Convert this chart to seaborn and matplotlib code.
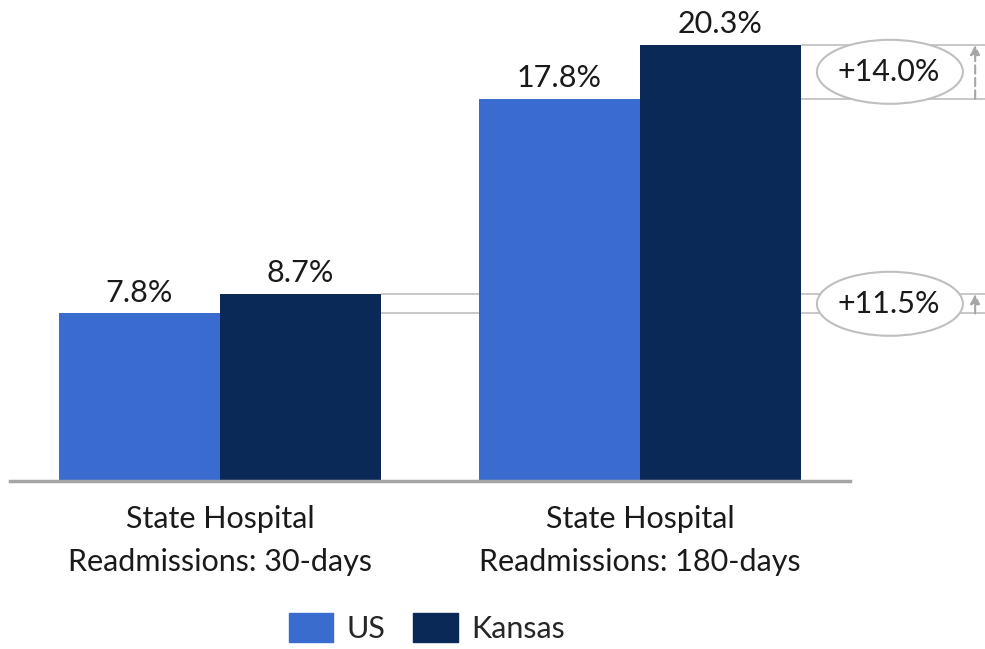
import matplotlib
matplotlib.use("Agg")
import matplotlib.pyplot as plt
from matplotlib.patches import Ellipse
import seaborn as sns
import pandas as pd

# Readmission rates (%) for the two measures
categories = ["State Hospital\nReadmissions: 30-days", "State Hospital\nReadmissions: 180-days"]
regions = ["US", "Kansas"]
us_rates = [7.8, 17.8]
kansas_rates = [8.7, 20.3]
palette = {"US": "#3A6CCF", "Kansas": "#0B2956"}

df = pd.DataFrame({
    "measure": categories * 2,
    "region": ["US"] * len(categories) + ["Kansas"] * len(categories),
    "rate": us_rates + kansas_rates,
})

sns.set_theme(style="white")
plt.rcParams["font.family"] = ["Lato", "DejaVu Sans"]
FS = 22
TXT = "#1A1A1A"

fig = plt.figure(figsize=(9.85, 6.49), dpi=100)
ax = fig.add_axes([10 / 985, (649 - 481) / 649, 840 / 985, 476 / 649])

sns.barplot(data=df, x="measure", y="rate", hue="region", hue_order=regions,
            order=categories, palette=palette, width=0.767, saturation=1,
            edgecolor="none", linewidth=0, ax=ax, legend=False)

ax.set_xlim(-0.5, 1.5)
ax.set_ylim(0, 476 / 21.48)
for side in ["left", "right", "top"]:
    ax.spines[side].set_visible(False)
ax.spines["bottom"].set_color("#A6A6A6")
ax.spines["bottom"].set_linewidth(2.5)
ax.set_yticks([])
ax.set_xlabel("")
ax.set_ylabel("")
ax.tick_params(axis="x", length=0, pad=17, labelsize=FS, labelcolor=TXT)
for lbl in ax.get_xticklabels():
    lbl.set_linespacing(1.65)

for cont in ax.containers:
    ax.bar_label(cont, labels=[f"{v:.1f}%" for v in cont.datavalues],
                 padding=5, fontsize=FS, color=TXT)

us_bars, ks_bars = ax.containers[0], ax.containers[1]
x_edge = 1.821  # right edge of the figure in data units
arrow_x = 1.798
grid_col = "#BFBFBF"

for i in range(len(categories)):
    us_b, ks_b = us_bars[i], ks_bars[i]
    us_v, ks_v = us_rates[i], kansas_rates[i]
    # guide lines at each value level, running out to the comparison bubble
    ax.hlines(us_v, us_b.get_x() + us_b.get_width(), x_edge, color=grid_col,
              linewidth=1.2, zorder=0.5, clip_on=False)
    ax.hlines(ks_v, ks_b.get_x() + ks_b.get_width(), x_edge, color=grid_col,
              linewidth=1.2, zorder=0.5, clip_on=False)
    # arrow showing the gap
    ax.annotate("", xy=(arrow_x, ks_v), xytext=(arrow_x, us_v),
                arrowprops=dict(arrowstyle="-|>", color="#A6A6A6", lw=1.5,
                                linestyle=(0, (4, 2)), mutation_scale=14,
                                shrinkA=0, shrinkB=0),
                annotation_clip=False)
    # relative difference bubble
    diff = (ks_v / us_v - 1) * 100
    mid = (us_v + ks_v) / 2
    cx = 1.595
    ax.add_patch(Ellipse((cx, mid), 146 / 420, 64 / 21.48, facecolor="white",
                         edgecolor="#BFBFBF", linewidth=1.5, zorder=3,
                         clip_on=False))
    ax.text(cx - 0.002, mid, f"+{diff:.1f}%", ha="center", va="center",
            fontsize=FS, color=TXT, zorder=4, clip_on=False)

handles = [plt.Rectangle((0, 0), 1, 1, color=palette[r]) for r in regions]
fig.legend(handles, regions, loc="center", bbox_to_anchor=(427 / 985, 1 - 628 / 649),
           ncol=2, frameon=False, fontsize=FS, handlelength=1.45,
           handleheight=1.1, handletextpad=0.45, columnspacing=0.9)

fig.savefig("out.png", dpi=100)
